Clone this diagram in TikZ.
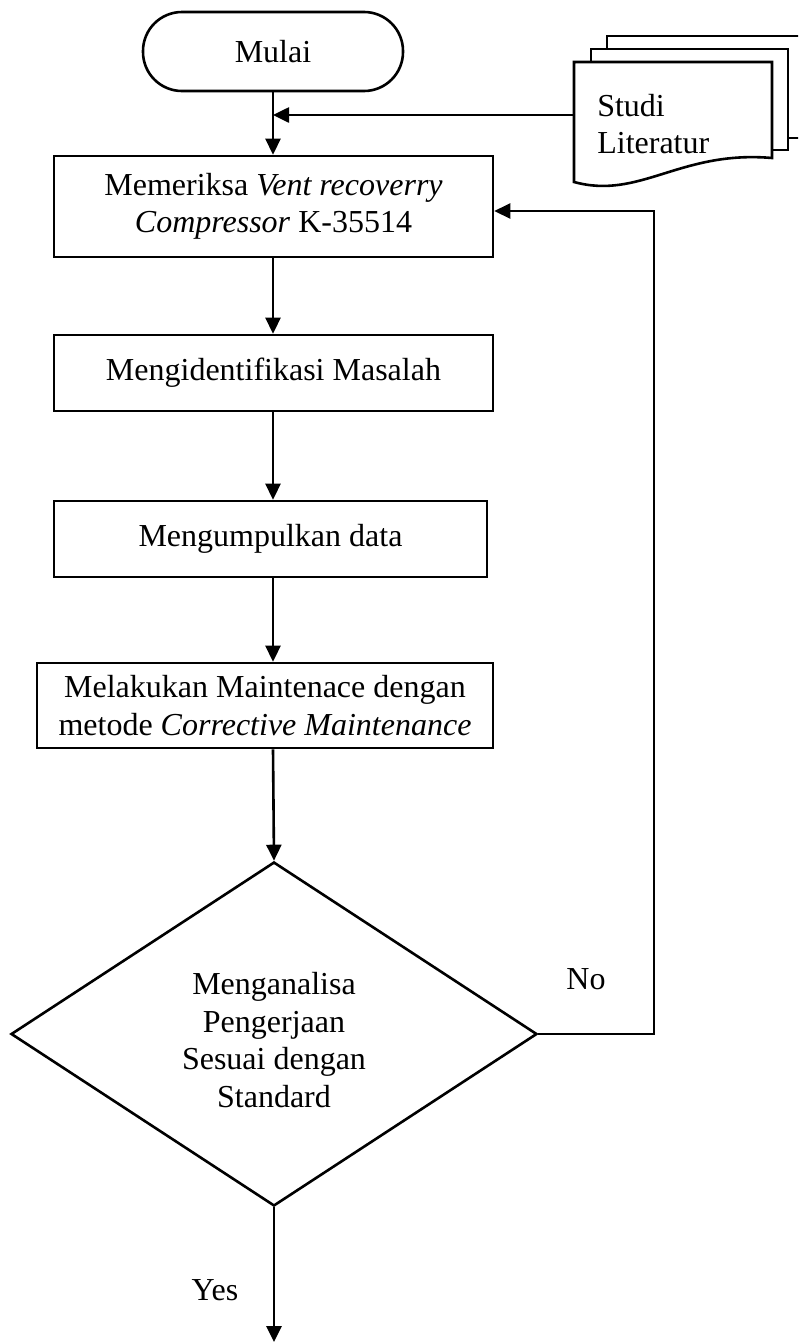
\documentclass[tikz,border=0pt]{standalone}
\usepackage{fontspec}
\setmainfont{Liberation Serif}
\usetikzlibrary{shapes.geometric,arrows.meta}
\begin{document}
\begin{tikzpicture}[x=1pt,y=-1pt,line width=2.6pt,
  txt/.style={font=\fontsize{32}{37.5}\selectfont,align=center,inner sep=0pt},
  procbox/.style={txt,draw,rectangle},
  flow/.style={-{Triangle[length=16pt,width=15pt]}},
  docsheet/.style={draw,fill=white}]
\useasboundingbox (0,0) rectangle (798,1344);
\clip (0,0) rectangle (798,1344);

% stacked document symbol (literature sources)
\draw[docsheet] (607,36) rectangle (812,138);
\draw[docsheet] (591,49) rectangle (788,150);
\draw[docsheet] (574,62) -- (772,62) -- (772,158)
  .. controls (680,150) and (640,200) .. (574,182) -- cycle;
\node[txt,align=left,anchor=west] (lit) at (596,124) {Studi\\Literatur};
\coordinate (litin) at (574,115);

% main flow
\node[txt,draw,rounded corners=39pt,minimum width=260pt,minimum height=79pt]
  (start) at (273,51.5) {Mulai};
\node[procbox,minimum width=439pt,minimum height=101pt] (check) at (273.5,206.5)
  {Memeriksa \textit{Vent recoverry}\\\textit{Compressor} K-35514};
\node[procbox,minimum width=439pt,minimum height=76pt] (ident) at (273.5,373)
  {Mengidentifikasi Masalah};
\node[procbox,minimum width=433pt,minimum height=76pt] (collect) at (270.5,539)
  {Mengumpulkan data};
\node[procbox,minimum width=456pt,minimum height=85pt] (maint) at (265,705.5)
  {Melakukan Maintenace dengan\\metode \textit{Corrective Maintenance}};
\node[txt,draw,shape=diamond,aspect=1.53,minimum width=526pt,minimum height=344pt]
  (dec) at (274,1034) {\rule{0pt}{34pt}Menganalisa\\Pengerjaan\\Sesuai dengan\\Standard};

\coordinate (j) at (273,115);
\coordinate (bend) at (654,211);
\coordinate (fin) at (274,1342);

\draw (start.south) -- (j);
\draw[flow] (j) -- (j |- check.north);
\draw[flow] (litin) -- (j);
\draw[flow] (j |- check.south) -- (j |- ident.north);
\draw[flow] (j |- ident.south) -- (j |- collect.north);
\draw[flow] (j |- collect.south) -- (j |- maint.north);
\draw[flow] (j |- maint.south) -- (dec.north);
\draw[flow] (dec.south) -- (fin);
\draw[flow] (dec.east) -| (bend) -- (bend -| check.east);

\node[txt] (yes) at (215,1290) {Yes};
\node[txt] (no) at (586,979) {No};
\end{tikzpicture}
\end{document}
